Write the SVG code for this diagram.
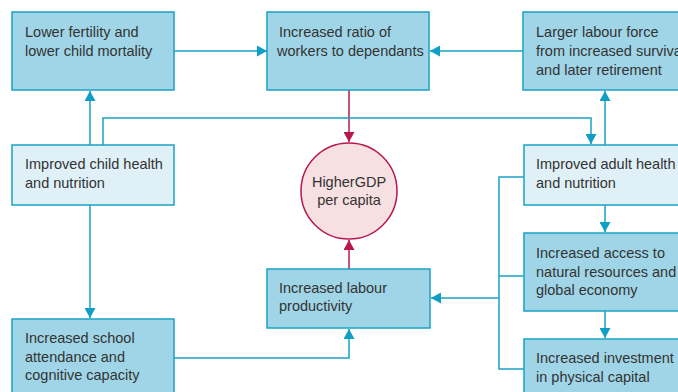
<svg xmlns="http://www.w3.org/2000/svg" width="678" height="392" viewBox="0 0 678 392">
<style>
.box{fill:#9fd5e7;stroke:#1aa3c6;stroke-width:1.5}
.lbox{fill:#dff0f7;stroke:#1aa3c6;stroke-width:1.5}
.t{font-family:"Liberation Sans",Arial,sans-serif;font-size:14.5px;fill:#333}
.c{fill:none;stroke:#1aa3c6;stroke-width:1.5}
.r{fill:none;stroke:#b8174d;stroke-width:1.5}
</style>
<defs>
<marker id="ab" markerUnits="userSpaceOnUse" markerWidth="10" markerHeight="11" refX="10" refY="5.5" orient="auto"><path d="M0,0 L10,5.5 L0,11 z" fill="#0e9ec6"/></marker>
<marker id="ar" markerUnits="userSpaceOnUse" markerWidth="10" markerHeight="11" refX="10" refY="5.5" orient="auto"><path d="M0,0 L10,5.5 L0,11 z" fill="#b8174d"/></marker>
</defs>
<rect width="678" height="392" fill="#fff"/>
<g id="connectors">
<path class="c" d="M174,51 H267" marker-end="url(#ab)"/>
<path class="c" d="M523,51 H430" marker-end="url(#ab)"/>
<path class="r" d="M349,90 V142" marker-end="url(#ar)"/>
<path class="r" d="M349,269 V240" marker-end="url(#ar)"/>
<path class="c" d="M90,145 V91" marker-end="url(#ab)"/>
<path class="c" d="M90,205 V318" marker-end="url(#ab)"/>
<path class="c" d="M103,145 V118 H591 V144" marker-end="url(#ab)"/>
<path class="c" d="M605,145 V91" marker-end="url(#ab)"/>
<path class="c" d="M605,205 V232" marker-end="url(#ab)"/>
<path class="c" d="M605,311 V338" marker-end="url(#ab)"/>
<path class="c" d="M524,177 H499 V369 H524 M524,276 H499"/>
<path class="c" d="M499,298 H431" marker-end="url(#ab)"/>
<path class="c" d="M174,358 H349 V329" marker-end="url(#ab)"/>
</g>
<g id="lower-fertility">
<rect class="box" x="12" y="12" width="162" height="78"/>
<text class="t" x="25" y="37">Lower fertility and</text>
<text class="t" x="25" y="56">lower child mortality</text>
</g>
<g id="ratio">
<rect class="box" x="267" y="12" width="162" height="78"/>
<text class="t" x="279" y="37">Increased ratio of</text>
<text class="t" x="277" y="56">workers to dependants</text>
</g>
<g id="larger-labour">
<rect class="box" x="523" y="12" width="170" height="78"/>
<text class="t" x="536" y="37">Larger labour force</text>
<text class="t" x="536" y="56">from increased survival</text>
<text class="t" x="536" y="75">and later retirement</text>
</g>
<g id="child-health">
<rect class="lbox" x="12" y="145" width="162" height="60"/>
<text class="t" x="25" y="169">Improved child health</text>
<text class="t" x="25" y="188">and nutrition</text>
</g>
<g id="gdp">
<circle cx="349" cy="191" r="48" fill="#f6e0e1" stroke="#b8174d" stroke-width="1.5"/>
<text class="t" x="349" y="187" text-anchor="middle">HigherGDP</text>
<text class="t" x="349" y="205" text-anchor="middle">per capita</text>
</g>
<g id="adult-health">
<rect class="lbox" x="524" y="145" width="170" height="60"/>
<text class="t" x="536" y="169">Improved adult health</text>
<text class="t" x="536" y="188">and nutrition</text>
</g>
<g id="access">
<rect class="box" x="524" y="233" width="170" height="78"/>
<text class="t" x="536" y="258">Increased access to</text>
<text class="t" x="536" y="277">natural resources and</text>
<text class="t" x="536" y="295">global economy</text>
</g>
<g id="productivity">
<rect class="box" x="267" y="269" width="163" height="59"/>
<text class="t" x="279" y="293">Increased labour</text>
<text class="t" x="279" y="311">productivity</text>
</g>
<g id="school">
<rect class="box" x="12" y="319" width="162" height="80"/>
<text class="t" x="25" y="343">Increased school</text>
<text class="t" x="25" y="362">attendance and</text>
<text class="t" x="25" y="380">cognitive capacity</text>
</g>
<g id="investment">
<rect class="box" x="524" y="339" width="170" height="60"/>
<text class="t" x="536" y="363">Increased investment</text>
<text class="t" x="536" y="382">in physical capital</text>
</g>
</svg>
